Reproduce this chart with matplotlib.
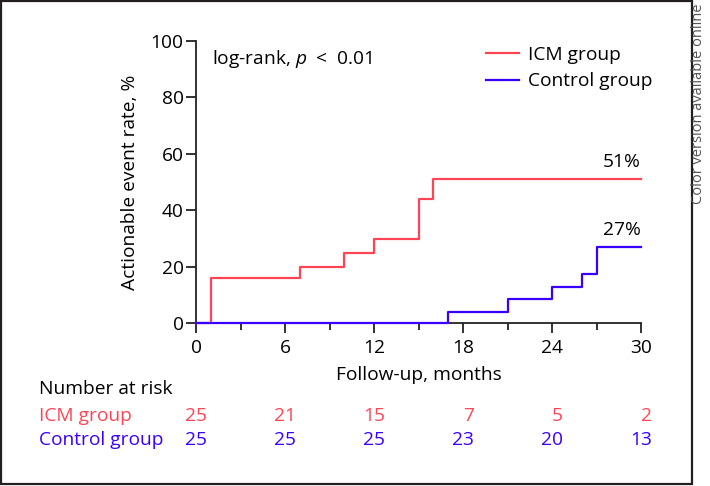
import matplotlib
matplotlib.use("Agg")
import matplotlib.pyplot as plt
from matplotlib.patches import Rectangle
from matplotlib.lines import Line2D
import matplotlib.transforms as mtransforms

plt.rcParams['font.family'] = ['Open Sans', 'DejaVu Sans']
plt.rcParams['mathtext.fontset'] = 'custom'
plt.rcParams['mathtext.it'] = 'Open Sans:italic'
plt.rcParams['mathtext.rm'] = 'Open Sans'

# Data
icm_times = [0, 1, 7, 10, 12, 15, 16, 30]
icm_rate = [0, 16, 20, 25, 30, 44, 51, 51]
ctrl_times = [0, 17, 21, 24, 26, 27, 30]
ctrl_rate = [0, 4, 8.5, 13, 17.5, 27, 27]
risk_times = [0, 6, 12, 18, 24, 30]
icm_risk = [25, 21, 15, 7, 5, 2]
ctrl_risk = [25, 25, 25, 23, 20, 13]
group_names = ["ICM group", "Control group"]
end_labels = ["51%", "27%"]

RED = '#FF4555'
BLUE = '#3A00FF'
FS = 13.8

fig = plt.figure(figsize=(7.1, 4.86), dpi=100)
ax = fig.add_axes([196/710, 1-323.3/486, (641-196)/710, (323.3-40.7)/486])

ax.step(icm_times, icm_rate, where='post', color=RED, lw=1.6, clip_on=False, zorder=3)
ax.step(ctrl_times, ctrl_rate, where='post', color=BLUE, lw=1.6, clip_on=False, zorder=4)

ax.set_xlim(0, 30)
ax.set_ylim(0, 100)
ax.set_xticks([0, 6, 12, 18, 24, 30])
ax.set_xticks([3, 9, 15, 21, 27], minor=True)
ax.set_yticks([0, 20, 40, 60, 80, 100])
for s in ['top', 'right']:
    ax.spines[s].set_visible(False)
for s in ['left', 'bottom']:
    ax.spines[s].set_linewidth(1.3)
    ax.spines[s].set_color('#222222')
ax.tick_params(axis='both', which='major', length=7, width=1.3, labelsize=FS, color='#222222', pad=2)
ax.tick_params(axis='x', which='major', pad=4)
ax.tick_params(axis='x', which='minor', length=5, width=1.3, color='#222222')
ax.set_ylabel("Actionable event rate, %", fontsize=FS, labelpad=8)
ax.set_xlabel("Follow-up, months", fontsize=FS, labelpad=7)

ax.text(0.035, 0.935, "log-rank, $\\mathit{p}$  <  0.01", transform=ax.transAxes, fontsize=FS, va='center', ha='left')

ax.text(30, icm_rate[-1] + 3, end_labels[0], ha='right', va='bottom', fontsize=FS)
ax.text(30, ctrl_rate[-1] + 3, end_labels[1], ha='right', va='bottom', fontsize=FS)

handles = [Line2D([], [], color=RED, lw=1.6), Line2D([], [], color=BLUE, lw=1.6)]
leg = ax.legend(handles, group_names, loc='upper left', bbox_to_anchor=(482/710, 1-42/486),
                bbox_transform=fig.transFigure, frameon=False, fontsize=FS,
                handlelength=1.75, handletextpad=0.45, labelspacing=0.45, borderaxespad=0, borderpad=0.2)

# Number at risk table
fig.text(39/710, 1-389/486, "Number at risk", fontsize=FS, va='center', ha='left')
fig.text(39/710, 1-416/486, group_names[0], fontsize=FS, va='center', ha='left', color=RED)
fig.text(39/710, 1-440/486, group_names[1], fontsize=FS, va='center', ha='left', color=BLUE)
blend = mtransforms.blended_transform_factory(ax.transData, fig.transFigure)
off = mtransforms.ScaledTranslation(11/100, 0, fig.dpi_scale_trans)
for t, a, b in zip(risk_times, icm_risk, ctrl_risk):
    ax.text(t, 1-416/486, str(a), transform=blend + off, ha='right', va='center', fontsize=FS, color=RED, clip_on=False)
    ax.text(t, 1-440/486, str(b), transform=blend + off, ha='right', va='center', fontsize=FS, color=BLUE, clip_on=False)

# frame
fig.add_artist(Rectangle((1/710, 1-484/486), 691/710, 483/486, transform=fig.transFigure,
                         fill=False, edgecolor='#231f20', lw=1.6))
fig.text(698/710, 1-4/486, "Color version available online", rotation=90, ha='center', va='top',
         fontsize=10.5, color='#555555')

fig.savefig("out.png", dpi=100)
